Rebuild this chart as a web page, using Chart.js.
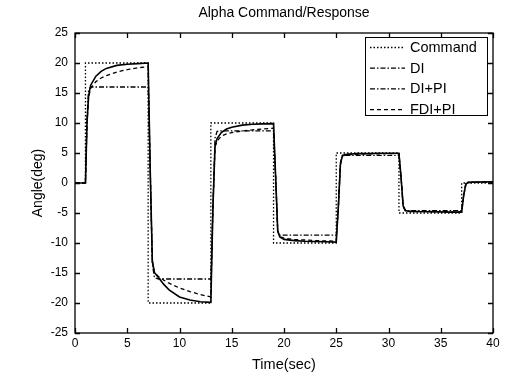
<!DOCTYPE html>
<html>
<head>
<meta charset="utf-8">
<script src="https://cdn.jsdelivr.net/npm/chart.js@4"></script>
<style>
  html, body { margin: 0; padding: 0; background: #fff; }
  #wrap { width: 512px; height: 378px; }
</style>
</head>
<body>
<div id="wrap"><canvas id="alpha"></canvas></div>
<script>
// command steps (stepped line)
const cmdTime = [0, 1, 7, 13, 19, 25, 31, 37, 40];
const cmdAngle = [0, 20, -20, 10, -10, 5, -5, 0, 0];

// response samples
const time = [
  0, 1, 1.15, 1.3, 1.5, 2, 2.5, 3, 4, 5, 6, 7,
  7.2, 7.4, 7.6, 8, 8.5, 9, 10, 11, 12, 13,
  13.2, 13.4, 13.6, 14, 14.5, 15, 16, 17, 18, 19,
  19.2, 19.4, 19.6, 20, 21, 22, 23, 24, 25,
  25.2, 25.4, 25.6, 26, 27, 28, 29, 30, 31,
  31.2, 31.4, 31.6, 32, 34, 36, 37,
  37.2, 37.4, 37.6, 38, 40
];
const diAngle = [
  0, 0, 11, 15.5, 16, 16, 16, 16, 16, 16, 16, 16,
  2, -13.5, -15.8, -16, -16, -16, -16, -16, -16, -16,
  -4, 7.5, 8.6, 8.7, 8.7, 8.7, 8.7, 8.7, 8.7, 8.7,
  1, -8, -8.7, -8.7, -8.7, -8.7, -8.7, -8.7, -8.7,
  -4, 3.4, 4.6, 4.6, 4.6, 4.6, 4.6, 4.6, 4.6,
  1, -3.8, -4.6, -4.6, -4.6, -4.6, -4.6,
  -2, -0.1, 0.1, 0.1, 0.1
];
const diPiAngle = [
  0, 0, 10, 14.5, 16.3, 17.8, 18.6, 19.1, 19.6, 19.8, 19.9, 20,
  2, -13, -14.9, -15.8, -16.9, -17.8, -19.0, -19.5, -19.8, -19.9,
  -4, 6.2, 7.4, 8.4, 9.0, 9.3, 9.65, 9.8, 9.85, 9.9,
  1, -8, -9.0, -9.4, -9.6, -9.7, -9.75, -9.8, -9.85,
  -4, 3.2, 4.6, 4.8, 4.9, 4.9, 4.95, 4.95, 4.95,
  1, -3.8, -4.6, -4.75, -4.8, -4.85, -4.85,
  -2, -0.2, 0.1, 0.15, 0.2
];
const fdiPiAngle = [
  0, 0, 10, 14.3, 15.8, 16.9, 17.5, 17.9, 18.5, 18.9, 19.2, 19.4,
  2, -13, -14.9, -15.6, -16.2, -16.7, -17.5, -18.1, -18.6, -19.0,
  -4, 6.0, 7.0, 7.8, 8.2, 8.4, 8.65, 8.85, 9.0, 9.15,
  1, -8, -8.9, -9.2, -9.4, -9.5, -9.6, -9.65, -9.7,
  -4, 3.0, 4.5, 4.7, 4.8, 4.85, 4.85, 4.9, 4.9,
  1, -3.8, -4.5, -4.7, -4.75, -4.8, -4.8,
  -2, -0.3, 0.05, 0.1, 0.15
];

const seriesNames = ['Command', 'DI', 'DI+PI', 'FDI+PI'];
const xTicks = { min: 0, max: 40, step: 5 };
const yTicks = { min: -25, max: 25, step: 5 };

const FONT = "'Liberation Sans', Arial, Helvetica, sans-serif";

function pts(xs, ys) {
  return xs.map((x, i) => ({ x: x, y: ys[i] }));
}

// legend line styles (DI+PI shows as dash-dot in the key)
const legendDash = [[1.5, 2], [5, 2, 1.5, 2], [5, 2, 1.5, 2], [4, 3]];

// inward ticks + box frame, matlab style
const framePlugin = {
  id: 'frame',
  afterDraw(chart) {
    const ctx = chart.ctx, a = chart.chartArea;
    const xs = chart.scales.x, ys = chart.scales.y;
    const len = 5;
    ctx.save();
    ctx.strokeStyle = '#000';
    ctx.lineWidth = 1.3;
    ctx.setLineDash([]);
    ctx.strokeRect(a.left, a.top, a.right - a.left, a.bottom - a.top);
    ctx.beginPath();
    xs.ticks.forEach(t => {
      const px = Math.round(xs.getPixelForValue(t.value)) + 0.5;
      ctx.moveTo(px, a.bottom); ctx.lineTo(px, a.bottom - len);
      ctx.moveTo(px, a.top); ctx.lineTo(px, a.top + len);
    });
    ys.ticks.forEach(t => {
      const py = Math.round(ys.getPixelForValue(t.value)) + 0.5;
      ctx.moveTo(a.left, py); ctx.lineTo(a.left + len, py);
      ctx.moveTo(a.right, py); ctx.lineTo(a.right - len, py);
    });
    ctx.stroke();
    ctx.restore();
  }
};

// legend box drawn in the top right corner of the plot
const keyPlugin = {
  id: 'key',
  afterDraw(chart) {
    const ctx = chart.ctx, a = chart.chartArea;
    const w = 122, h = 78;
    const left = a.right - w - 6, top = a.top + 4;
    ctx.save();
    ctx.fillStyle = '#fff';
    ctx.fillRect(left, top, w, h);
    ctx.strokeStyle = '#000';
    ctx.lineWidth = 1;
    ctx.strokeRect(left + 0.5, top + 0.5, w, h);
    ctx.font = '14.5px ' + FONT;
    ctx.textBaseline = 'middle';
    ctx.textAlign = 'left';
    chart.data.datasets.forEach((ds, i) => {
      const y = top + 10 + i * 20.7;
      ctx.beginPath();
      ctx.setLineDash(legendDash[i]);
      ctx.lineWidth = 1.3;
      ctx.moveTo(left + 5, y + 0.5);
      ctx.lineTo(left + 40, y + 0.5);
      ctx.stroke();
      ctx.setLineDash([]);
      ctx.fillStyle = '#000';
      ctx.fillText(ds.label, left + 45, y + 1);
    });
    ctx.restore();
  }
};

const ctx = document.getElementById('alpha').getContext('2d');
new Chart(ctx, {
  type: 'line',
  data: {
    datasets: [
      { label: seriesNames[0], data: pts(cmdTime, cmdAngle), stepped: 'before',
        borderColor: '#000', borderWidth: 1.3, borderDash: [1.5, 2] },
      { label: seriesNames[1], data: pts(time, diAngle),
        borderColor: '#000', borderWidth: 1.3, borderDash: [5, 2, 1.5, 2] },
      { label: seriesNames[2], data: pts(time, diPiAngle),
        borderColor: '#000', borderWidth: 1.6, borderDash: [] },
      { label: seriesNames[3], data: pts(time, fdiPiAngle),
        borderColor: '#000', borderWidth: 1.3, borderDash: [4, 3] }
    ]
  },
  options: {
    responsive: true,
    maintainAspectRatio: false,
    animation: false,
    elements: { point: { radius: 0 }, line: { tension: 0, fill: false } },
    layout: { padding: { left: 30, right: 19, top: 0, bottom: 4 } },
    plugins: {
      legend: { display: false },
      tooltip: { enabled: false },
      title: {
        display: true,
        fullSize: false,
        text: 'Alpha Command/Response',
        color: '#000',
        font: { family: FONT, size: 14, weight: 'normal', lineHeight: 1.2 },
        padding: { top: 5, bottom: 11.2 }
      }
    },
    scales: {
      x: {
        type: 'linear',
        min: xTicks.min, max: xTicks.max,
        afterFit(scale) { scale.height = 41; },
        grid: { display: false, drawTicks: false },
        border: { display: false },
        ticks: { stepSize: xTicks.step, padding: 3, color: '#000', maxRotation: 0,
                 font: { family: FONT, size: 12 } },
        title: { display: true, text: 'Time(sec)', color: '#000',
                 font: { family: FONT, size: 14.5 }, padding: { top: 2, bottom: 0 } }
      },
      y: {
        type: 'linear',
        min: yTicks.min, max: yTicks.max,
        afterFit(scale) { scale.width = 45; },
        grid: { display: false, drawTicks: false },
        border: { display: false },
        ticks: { stepSize: yTicks.step, padding: 7, color: '#000',
                 font: { family: FONT, size: 12 } },
        title: { display: true, text: 'Angle(deg)', color: '#000',
                 font: { family: FONT, size: 14 }, padding: { top: 0, bottom: 0 } }
      }
    }
  },
  plugins: [framePlugin, keyPlugin]
});
</script>
</body>
</html>
